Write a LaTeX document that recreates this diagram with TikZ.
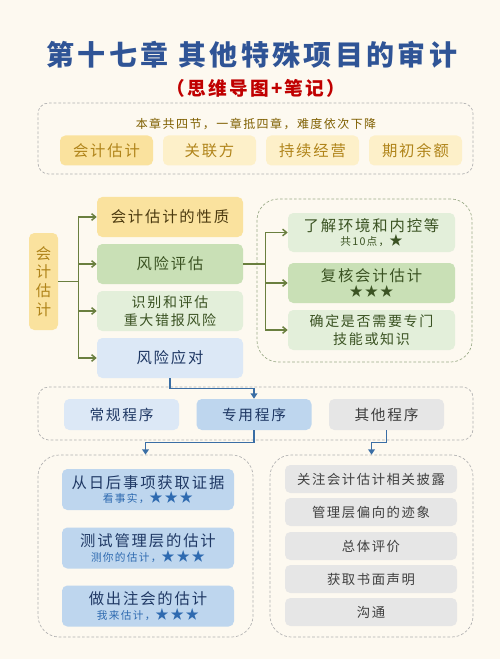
\documentclass[tikz,border=0pt]{standalone}
\usepackage{fontspec}
\setmainfont{Noto Sans CJK SC}[LetterSpace=12]
\usetikzlibrary{arrows.meta,positioning}
\definecolor{bgc}{HTML}{FDF9F0}
\definecolor{titleblue}{HTML}{2F5496}
\definecolor{titlered}{HTML}{C00000}
\definecolor{notebrown}{HTML}{7F5F00}
\definecolor{ydark}{HTML}{FAE29E}
\definecolor{ylight}{HTML}{FDF0C9}
\definecolor{ytext}{HTML}{B0841A}
\definecolor{ybrown}{HTML}{4D3B10}
\definecolor{gmid}{HTML}{C9E0B6}
\definecolor{glight}{HTML}{E3EFDA}
\definecolor{gtext}{HTML}{3B5323}
\definecolor{blight}{HTML}{DCE8F6}
\definecolor{bmid}{HTML}{BED6EE}
\definecolor{btext}{HTML}{1F3864}
\definecolor{bsub}{HTML}{2E6AB0}
\definecolor{graybox}{HTML}{E6E6E6}
\definecolor{graytext}{HTML}{3F3F3F}
\definecolor{oline}{HTML}{6A7F3F}
\definecolor{bline}{HTML}{3A6EA5}
\definecolor{dashc}{HTML}{B0B0B0}
\definecolor{dashg}{HTML}{9AAA88}
\newcommand\mystar{{\fontsize{10pt}{10pt}\selectfont ★}}
\newcommand\mystars{\mystar\,\mystar\,\mystar}
\tikzset{
  fs/.style={font=\fontsize{#1}{13.5pt}\selectfont},
  rbox/.style={rounded corners=4pt, inner sep=1pt, align=center, draw=none},
  group/.style={draw=#1, dashed, dash pattern=on 2pt off 1.5pt, line width=0.5pt, fill=bgc, rounded corners=14pt},
  olink/.style={draw=oline, line width=1.1pt, -{Straight Barb[length=3pt,width=5pt]}},
  oplain/.style={draw=oline, line width=1.1pt},
  blink/.style={draw=bline, line width=1.1pt, -{Triangle[length=4pt,width=5pt]}},
}
\begin{document}
\begin{tikzpicture}[x=0.75pt,y=-0.75pt]
\fill[bgc] (0,0) rectangle (500,659);
\useasboundingbox (0,0) rectangle (500,659);

% title
\node[text=titleblue, font=\fontsize{21pt}{25pt}\selectfont\bfseries] (title) at (252,55) {第十七章\ 其他特殊项目的审计};
\node[text=titlered, font=\fontsize{14pt}{17pt}\selectfont\bfseries] (sub) at (256,88) {（思维导图+笔记）};

% top group
\node[group=dashc, rounded corners=8pt, minimum width=326.25pt, minimum height=53.25pt] (topg) at (255.5,138.5) {};
\node[text=notebrown, fs=9pt] (note) at (256,124) {本章共四节，一章抵四章，难度依次下降};
\node[rbox, fill=ydark, text=ytext, fs=11.5pt, minimum width=69.75pt, minimum height=22.5pt] (s1) at (106.5,150.5) {会计估计};
\node[rbox, fill=ylight, text=ytext, fs=11.5pt, minimum width=69.75pt, minimum height=22.5pt] (s2) at (209.5,150.5) {关联方};
\node[rbox, fill=ylight, text=ytext, fs=11.5pt, minimum width=69.75pt, minimum height=22.5pt] (s3) at (312.5,150.5) {持续经营};
\node[rbox, fill=ylight, text=ytext, fs=11.5pt, minimum width=69.75pt, minimum height=22.5pt] (s4) at (415.5,150.5) {期初余额};

% middle section
\node[rbox, fill=ydark, text=ytext, minimum width=21.75pt, minimum height=72.75pt, font=\fontsize{11.5pt}{14pt}\selectfont] (root) at (43.5,281.5) {会\\计\\估\\计};
\node[rbox, fill=ydark, text=ybrown, fs=11.5pt, minimum width=109.5pt, minimum height=30pt] (m1) at (170,217) {会计估计的性质};
\node[rbox, fill=gmid, text=gtext, fs=11.5pt, minimum width=109.5pt, minimum height=30pt] (m2) at (170,264) {风险评估};
\node[rbox, fill=glight, text=gtext, fs=10.5pt, minimum width=109.5pt, minimum height=30pt] (m3) at (170,311) {识别和评估\\重大错报风险};
\node[rbox, fill=blight, text=btext, fs=11.5pt, minimum width=109.5pt, minimum height=30pt] (m4) at (170,358) {风险应对};

\draw[oplain] (root.east) -- ++(20,0) coordinate (t1);
\draw[olink] (t1) |- (m1.west);
\draw[olink] (t1) |- (m2.west);
\draw[olink] (t1) |- (m3.west);
\draw[olink] (t1) |- (m4.west);

% right green group
\node[group=dashg, rounded corners=16pt, minimum width=161.25pt, minimum height=122.25pt] (rg) at (364.5,280.5) {};
\node[rbox, fill=glight, text=gtext, minimum width=125.25pt, minimum height=29.25pt] (r1) at (371.5,232.5) {{\fontsize{11.5pt}{13pt}\selectfont 了解环境和内控等}\\[-1pt]{\fontsize{8pt}{10pt}\selectfont 共10点，\mystar}};
\node[rbox, fill=gmid, text=gtext, minimum width=125.25pt, minimum height=30pt] (r2) at (371.5,283) {{\fontsize{11.5pt}{13pt}\selectfont 复核会计估计}\\[-1pt]{\fontsize{8.5pt}{10pt}\selectfont \mystars}};
\node[rbox, fill=glight, text=gtext, fs=10.5pt, minimum width=125.25pt, minimum height=30pt] (r3) at (371.5,330) {确定是否需要专门\\技能或知识};

\draw[oplain] (m2.east) -- ++(22,0) coordinate (t2);
\draw[olink] (t2) |- (r1.west);
\draw[olink] (t2) |- (r2.west);
\draw[olink] (t2) |- (r3.west);

% programs group
\node[group=dashc, rounded corners=8pt, minimum width=326.25pt, minimum height=39.75pt] (pg) at (255.5,413.5) {};
\node[rbox, fill=blight, text=btext, fs=11pt, minimum width=86.25pt, minimum height=23.25pt] (p1) at (121.5,414.5) {常规程序};
\node[rbox, fill=bmid, text=btext, fs=11pt, minimum width=86.25pt, minimum height=23.25pt] (p2) at (254,414.5) {专用程序};
\node[rbox, fill=graybox, text=graytext, fs=11pt, minimum width=86.25pt, minimum height=23.25pt] (p3) at (386.5,414.5) {其他程序};

\draw[blink] (m4.south) -- ++(0,10) -| (p2.north);

% bottom groups
\node[group=dashc, rounded corners=16pt, minimum width=161.25pt, minimum height=136.5pt] (bl) at (145.5,546) {};
\node[group=dashc, rounded corners=16pt, minimum width=152.25pt, minimum height=136.5pt] (br) at (371.5,546) {};

\draw[blink] (p2.south) -- ++(0,12) -| (bl.north);
\draw[blink] (p3.south) -- ++(0,12) -| (br.north);

\node[rbox, fill=bmid, text=btext, minimum width=129pt, minimum height=30.75pt] (b1) at (148,489.5) {{\fontsize{11.5pt}{13pt}\selectfont 从日后事项获取证据}\\[-1pt]{\color{bsub}\fontsize{8pt}{10pt}\selectfont 看事实，\mystars}};
\node[rbox, fill=bmid, text=btext, minimum width=129pt, minimum height=30.75pt] (b2) at (148,548) {{\fontsize{11.5pt}{13pt}\selectfont 测试管理层的估计}\\[-1pt]{\color{bsub}\fontsize{8pt}{10pt}\selectfont 测你的估计，\mystars}};
\node[rbox, fill=bmid, text=btext, minimum width=129pt, minimum height=30.75pt] (b3) at (148,606) {{\fontsize{11.5pt}{13pt}\selectfont 做出注会的估计}\\[-1pt]{\color{bsub}\fontsize{8pt}{10pt}\selectfont 我来估计，\mystars}};

\node[rbox, fill=graybox, text=graytext, fs=10pt, minimum width=129pt, minimum height=21pt] (g1) at (371,479) {关注会计估计相关披露};
\node[rbox, fill=graybox, text=graytext, fs=10pt, minimum width=129pt, minimum height=21pt] (g2) at (371,512) {管理层偏向的迹象};
\node[rbox, fill=graybox, text=graytext, fs=10pt, minimum width=129pt, minimum height=21pt] (g3) at (371,546) {总体评价};
\node[rbox, fill=graybox, text=graytext, fs=10pt, minimum width=129pt, minimum height=21pt] (g4) at (371,579) {获取书面声明};
\node[rbox, fill=graybox, text=graytext, fs=10pt, minimum width=129pt, minimum height=21pt] (g5) at (371,612) {沟通};
\end{tikzpicture}
\end{document}
